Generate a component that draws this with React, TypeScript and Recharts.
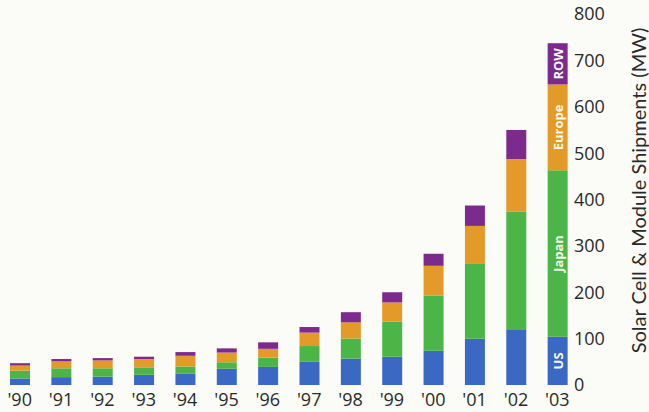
import { BarChart, Bar, XAxis, YAxis, LabelList } from 'recharts';

const years = ["'90", "'91", "'92", "'93", "'94", "'95", "'96", "'97", "'98", "'99", "'00", "'01", "'02", "'03"];
const us = [14, 17, 18, 22, 25, 35, 39, 50, 57, 61, 74, 100, 120, 104];
const japan = [17, 19, 18, 16, 15, 14, 20, 34, 43, 76, 119, 161, 254, 359];
const europe = [11, 15, 17, 18, 23, 21, 19, 29, 35, 41, 64, 82, 113, 185];
const row = [5, 5, 5, 5, 8, 9, 14, 12, 22, 22, 26, 44, 63, 89];
const yTicks = [0, 100, 200, 300, 400, 500, 600, 700, 800];

// segment names are only written inside the last bar
const lastIdx = years.length - 1;
const data = years.map((year, i) => ({
  year,
  us: us[i],
  japan: japan[i],
  europe: europe[i],
  row: row[i],
  usLabel: i === lastIdx ? 'US' : '',
  japanLabel: i === lastIdx ? 'Japan' : '',
  europeLabel: i === lastIdx ? 'Europe' : '',
  rowLabel: i === lastIdx ? 'ROW' : '',
}));

const FONT = '"Open Sans", "DejaVu Sans", sans-serif';
const TITLE_FONT = 'Lato, "Open Sans", sans-serif';

const SegmentLabel = (props: any) => {
  const { x, y, width, height, value } = props;
  if (!value) return null;
  const cx = Number(x) + Number(width) / 2;
  const cy = Number(y) + Number(height) / 2;
  return (
    <text
      x={cx}
      y={cy}
      transform={`rotate(-90, ${cx}, ${cy})`}
      textAnchor="middle"
      dominantBaseline="central"
      fill="#f4f8ee"
      fontSize={13}
      fontWeight={700}
      fontFamily={FONT}
    >
      {value}
    </text>
  );
};

export default function App() {
  return (
    <div style={{ position: 'absolute', left: 0, top: 0, width: 649, height: 412, background: '#fbfcf8' }}>
      <BarChart
        width={649}
        height={412}
        data={data}
        margin={{ top: 14, right: 0, bottom: 0, left: -1 }}
        barSize={20}
      >
        <XAxis
          dataKey="year"
          axisLine={false}
          tickLine={false}
          height={27}
          interval={0}
          tick={{ fontSize: 18, fill: '#2a2a2a', fontFamily: FONT, dy: 2 }}
          tickMargin={0}
        />
        <YAxis
          orientation="right"
          domain={[0, 800]}
          ticks={yTicks}
          axisLine={false}
          tickLine={false}
          width={71}
          tick={{ fontSize: 18, fill: '#2a2a2a', fontFamily: FONT, dx: -12 }}
          label={{
            value: 'Solar Cell & Module Shipments (MW)',
            angle: -90,
            position: 'insideRight',
            offset: 0,
            dx: -10,
            dy: -9,
            style: { fontSize: 20, fill: '#2a2a2a', fontFamily: TITLE_FONT, textAnchor: 'middle' },
          }}
        />
        <Bar dataKey="us" stackId="a" fill="#3a68c2" isAnimationActive={false}>
          <LabelList dataKey="usLabel" content={SegmentLabel} />
        </Bar>
        <Bar dataKey="japan" stackId="a" fill="#4cb548" isAnimationActive={false}>
          <LabelList dataKey="japanLabel" content={SegmentLabel} />
        </Bar>
        <Bar dataKey="europe" stackId="a" fill="#e39a28" isAnimationActive={false}>
          <LabelList dataKey="europeLabel" content={SegmentLabel} />
        </Bar>
        <Bar dataKey="row" stackId="a" fill="#7d2a8e" isAnimationActive={false}>
          <LabelList dataKey="rowLabel" content={SegmentLabel} />
        </Bar>
      </BarChart>
    </div>
  );
}
